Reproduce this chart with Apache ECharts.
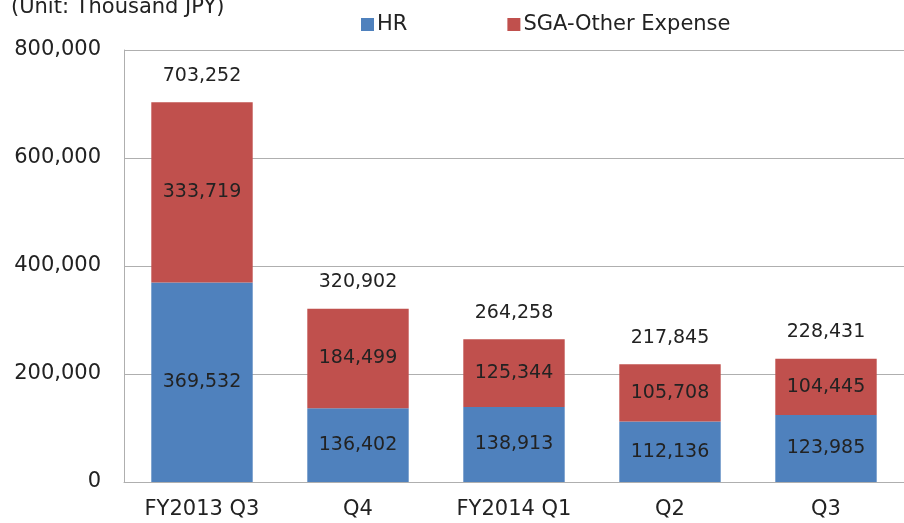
<!DOCTYPE html>
<html lang="en" style="height: 100%">
<head>
  <meta charset="utf-8">
</head>
<body style="height: 100%; margin: 0">
  <div id="container" style="height: 100%"></div>

  <script type="text/javascript" src="https://registry.npmmirror.com/echarts/5.5.1/files/dist/echarts.min.js"></script>

  <script type="text/javascript">
    var categories = ['FY2013 Q3', 'Q4', 'FY2014 Q1', 'Q2', 'Q3'];
    var hrValues = [369532, 136402, 138913, 112136, 123985];
    var sgaValues = [333719, 184499, 125344, 105708, 104445];
    var totalValues = [703252, 320902, 264258, 217845, 228431];

    var font = 'DejaVu Sans';
    var fmt = function (v) {
      return v.toString().replace(/\B(?=(\d{3})+(?!\d))/g, ',');
    };

    var dom = document.getElementById('container');
    var myChart = echarts.init(dom, null, { renderer: 'canvas' });

    var option = {
      animation: false,
      title: {
        text: '(Unit: Thousand JPY)',
        left: 6,
        top: -8,
        textStyle: { fontFamily: font, fontSize: 21, fontWeight: 'normal', color: '#222' }
      },
      legend: {
        data: ['HR', 'SGA-Other Expense'],
        top: 9,
        left: 356,
        itemWidth: 13,
        itemHeight: 13,
        itemGap: 100,
        icon: 'rect',
        textStyle: { fontFamily: font, fontSize: 21, color: '#222', padding: [0, 0, 0, -2] }
      },
      grid: { left: 124, right: 0, top: 50, bottom: 41, containLabel: false },
      xAxis: {
        type: 'category',
        data: categories,
        axisLine: { lineStyle: { color: '#AFAFAF', width: 1 } },
        axisTick: { show: false },
        axisLabel: { fontFamily: font, fontSize: 21, color: '#222', margin: 17 }
      },
      yAxis: {
        type: 'value',
        min: 0,
        max: 800000,
        interval: 200000,
        axisLine: { show: true, lineStyle: { color: '#AFAFAF', width: 1 } },
        axisTick: { show: false },
        splitLine: { lineStyle: { color: '#AFAFAF', width: 1 } },
        axisLabel: {
          fontFamily: font, fontSize: 21, color: '#222', margin: 23,
          formatter: function (v) { return fmt(v); }
        }
      },
      series: [
        {
          name: 'HR',
          type: 'bar',
          stack: 'total',
          barWidth: '65%',
          data: hrValues,
          itemStyle: { color: '#4F81BD' },
          label: {
            show: true, position: 'inside', fontFamily: font, fontSize: 19, color: '#222',
            formatter: function (p) { return fmt(p.value); }
          }
        },
        {
          name: 'SGA-Other Expense',
          type: 'bar',
          stack: 'total',
          data: sgaValues,
          itemStyle: { color: '#C0504D' },
          label: {
            show: true, position: 'inside', fontFamily: font, fontSize: 19, color: '#222',
            formatter: function (p) { return fmt(p.value); }
          }
        },
        {
          name: 'Total',
          type: 'bar',
          stack: 'total',
          data: totalValues.map(function () { return 0; }),
          itemStyle: { color: 'transparent' },
          label: {
            show: true, position: 'top', distance: 17, fontFamily: font, fontSize: 19, color: '#222',
            formatter: function (p) { return fmt(totalValues[p.dataIndex]); }
          }
        }
      ]
    };

    myChart.setOption(option);

    window.addEventListener('resize', function () {
      myChart.resize();
    });
  </script>
</body>
</html>
